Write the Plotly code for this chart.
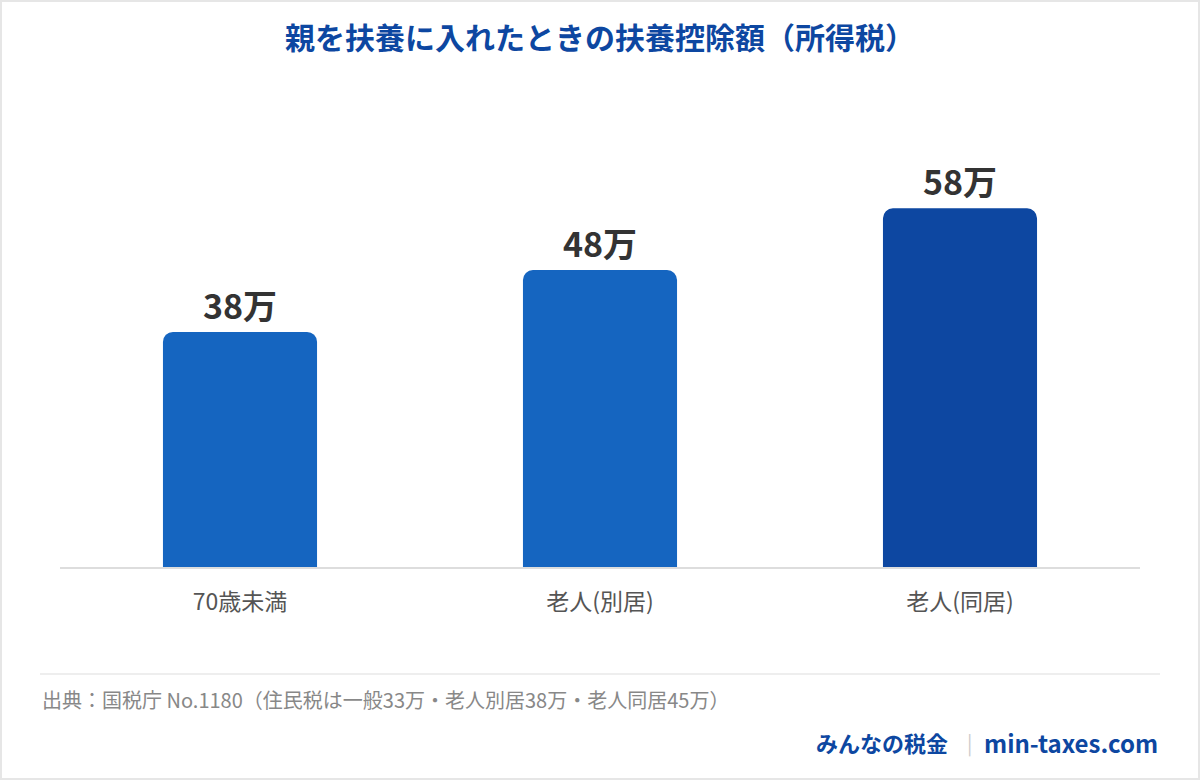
import plotly.graph_objects as go

# data
categories = ["70歳未満", "老人(別居)", "老人(同居)"]
deduction = [38, 48, 58]  # 万円
bar_colors = ["#1565C0", "#1565C0", "#0D47A1"]
value_labels = [f"{v}万" for v in deduction]

title_text = "親を扶養に入れたときの扶養控除額（所得税）"
source_text = "出典：国税庁 No.1180（住民税は一般33万・老人別居38万・老人同居45万）"
brand_name = "みんなの税金"
brand_url = "min-taxes.com"

W, H = 1200, 780
L, R, T, B = 60, 60, 134, 213
PW, PH = W - L - R, H - T - B

JP = "Noto Sans CJK JP"


def px_x(px):
    return (px - L) / PW


def px_y(py):
    return (H - B - py) / PH


fig = go.Figure()

fig.add_trace(go.Bar(
    x=categories,
    y=deduction,
    marker=dict(color=bar_colors, cornerradius=10, line=dict(width=0)),
    text=value_labels,
    textposition="outside",
    textfont=dict(family=JP, size=34, color="#333333", weight="bold"),
    cliponaxis=False,
    hoverinfo="skip",
))

fig.update_layout(
    width=W,
    height=H,
    margin=dict(l=L, r=R, t=T, b=B),
    paper_bgcolor="white",
    plot_bgcolor="white",
    showlegend=False,
    bargap=0.572,
    title=dict(
        text=title_text,
        x=0.5,
        xanchor="center",
        y=1 - 38 / H,
        yanchor="middle",
        font=dict(family=JP, size=30, color="#0D47A1", weight="bold"),
    ),
    xaxis=dict(
        showgrid=False,
        showline=True,
        linecolor="#dddddd",
        linewidth=2,
        ticks="",
        ticklabelstandoff=13,
        tickfont=dict(family=JP, size=23, color="#555555"),
        zeroline=False,
    ),
    yaxis=dict(
        range=[0, 70],
        showgrid=False,
        showticklabels=False,
        zeroline=False,
        showline=False,
    ),
)

# outer border and footer separator
fig.add_shape(
    type="rect", xref="paper", yref="paper",
    x0=px_x(1), x1=px_x(W - 1), y0=px_y(H - 1), y1=px_y(1),
    line=dict(color="#e6e6e6", width=2), fillcolor="rgba(0,0,0,0)",
)
fig.add_shape(
    type="line", xref="paper", yref="paper",
    x0=px_x(40), x1=px_x(1160), y0=px_y(674), y1=px_y(674),
    line=dict(color="#eeeeee", width=2),
)

fig.add_annotation(
    text=source_text,
    xref="paper", yref="paper",
    x=px_x(40), y=px_y(699),
    xanchor="left", yanchor="middle",
    showarrow=False,
    font=dict(family=JP, size=20, color="#888888"),
)

# brand line
fig.add_annotation(
    text=brand_name,
    xref="paper", yref="paper",
    x=px_x(950), y=px_y(742),
    xanchor="right", yanchor="middle",
    showarrow=False,
    font=dict(family=JP, size=22, color="#0D47A1", weight="bold"),
)
fig.add_annotation(
    text="|",
    xref="paper", yref="paper",
    x=px_x(969), y=px_y(742),
    xanchor="center", yanchor="middle",
    showarrow=False,
    font=dict(family=JP, size=20, color="#cccccc"),
)
fig.add_annotation(
    text=brand_url,
    xref="paper", yref="paper",
    x=px_x(1160), y=px_y(742),
    xanchor="right", yanchor="middle",
    showarrow=False,
    font=dict(family=JP, size=24, color="#0D47A1", weight="bold"),
)

fig.write_html(
    "out.html",
    config={"displayModeBar": False},
    post_script="document.body.style.margin='0';",
)
